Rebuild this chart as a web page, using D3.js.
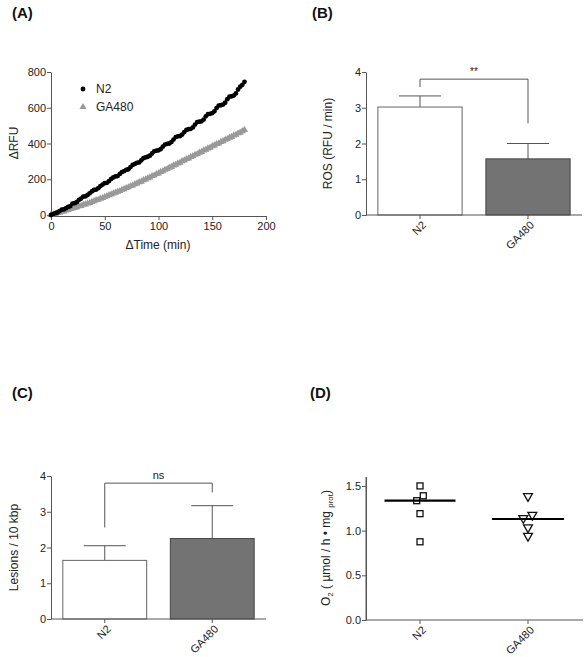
<!DOCTYPE html>
<html><head><meta charset="utf-8">
<script src="https://cdn.jsdelivr.net/npm/d3@7"></script>
<style>
body{margin:0;background:#fff;}
text{font-family:"Liberation Sans",Arial,sans-serif;fill:#222;}
</style></head>
<body>
<svg id="c" width="584" height="657"></svg>
<script>
// ---------- DATA ----------
const timeMin = [0,2,4,6,8,10,12,14,16,18,20,22,24,26,28,30,32,34,36,38,40,42,44,46,48,50,52,54,56,58,60,62,64,66,68,70,72,74,76,78,80,82,84,86,88,90,92,94,96,98,100,102,104,106,108,110,112,114,116,118,120,122,124,126,128,130,132,134,136,138,140,142,144,146,148,150,152,154,156,158,160,162,164,166,168,170,172,174,176,178,180];
const rfuN2 = [0,5,10,14,22,30,31,38,45,50,64,66,72,85,92,103,104,112,121,132,140,142,150,162,170,178,180,190,202,210,216,218,230,240,246,252,256,268,280,286,292,294,306,318,322,326,332,344,356,360,362,368,382,394,398,400,408,422,436,440,442,450,464,476,480,482,490,506,520,522,524,534,552,564,566,570,580,598,612,614,618,628,648,662,664,668,680,702,718,728,745];
const rfuGA480 = [0,4,6,11,13,19,20,26,28,34,36,41,43,49,51,57,59,65,67,73,77,83,85,91,95,102,105,111,115,121,125,131,134,141,145,151,155,162,165,173,177,184,187,195,199,206,210,218,221,229,233,241,245,253,257,265,269,277,281,289,293,301,305,313,317,325,329,337,341,349,353,361,365,373,377,385,389,397,401,409,413,421,425,433,437,445,449,457,461,469,476];
const xTicksA = [0,50,100,150,200];
const yTicksA = [0,200,400,600,800];

const strains = ["N2","GA480"];
const rosMean = [3.02, 1.57];
const rosErr = [3.33, 2.00];           // top of error bar
const rosBracket = [3.8, 3.58, 2.56];  // bracket level, left leg end, right leg end
const rosSig = "**";

const lesionMean = [1.64, 2.25];
const lesionErr = [2.05, 3.17];
const lesionBracket = [3.8, 2.56, 3.54];
const lesionSig = "ns";
const yTicksBC = [0,1,2,3,4];

const o2N2 = [1.50, 1.39, 1.335, 1.19, 0.875];
const o2GA480 = [1.385, 1.14, 1.175, 1.035, 0.94];
const o2Median = [1.335, 1.13];
const yTicksD = [0, 0.5, 1.0, 1.5];

// ---------- DRAW ----------
const svg = d3.select("#c");
const axisCol = "#555";
const fs = 11;

function panelLabel(t, x, y){
  svg.append("text").attr("x",x).attr("y",y).attr("font-size",15).attr("font-weight","bold").style("fill","#111").text(t);
}
function yAxis(g, scale, x, ticks, fmt){
  const a = d3.axisLeft(scale).tickValues(ticks).tickSize(4).tickSizeOuter(0).tickFormat(fmt||d3.format("d"));
  const gg = g.append("g").attr("transform",`translate(${x},0)`).call(a);
  gg.select(".domain").attr("stroke",axisCol);
  gg.selectAll(".tick line").attr("stroke",axisCol);
  gg.selectAll(".tick text").attr("font-size",fs).attr("font-family","Liberation Sans, Arial, sans-serif").style("fill","#222").attr("x",-5);
  return gg;
}
function xCatAxis(g, scale, y, x0, x1){
  g.append("line").attr("x1",x0).attr("x2",x1).attr("y1",y).attr("y2",y).attr("stroke",axisCol);
  strains.forEach(s=>{
    const x = scale(s);
    g.append("line").attr("x1",x).attr("x2",x).attr("y1",y).attr("y2",y+4).attr("stroke",axisCol);
    g.append("text").attr("transform",`translate(${x+4},${y+8}) rotate(-45)`)
      .attr("text-anchor","end").attr("dy","0.35em").attr("font-size",fs).text(s);
  });
}
function yTitle(g, x, y, t){
  return g.append("text").attr("transform",`translate(${x},${y}) rotate(-90)`).attr("text-anchor","middle").attr("font-size",12).text(t);
}

// ===== Panel A =====
{
  const g = svg.append("g");
  const x = d3.scaleLinear().domain([0,200]).range([51,266]);
  const y = d3.scaleLinear().domain([0,800]).range([215,72]);
  yAxis(g, y, 51, yTicksA);
  const xa = d3.axisBottom(x).tickValues(xTicksA).tickSize(4).tickSizeOuter(0);
  const gx = g.append("g").attr("transform","translate(0,216)").call(xa);
  gx.select(".domain").attr("stroke",axisCol);
  gx.selectAll(".tick line").attr("stroke",axisCol);
  gx.selectAll(".tick text").attr("font-size",fs).attr("font-family","Liberation Sans, Arial, sans-serif").style("fill","#222").attr("y",6);
  const tri = d3.symbol().type(d3.symbolTriangle).size(22);
  g.append("g").selectAll("path").data(timeMin.map((t,i)=>[t,rfuGA480[i]])).join("path")
    .attr("d",tri).attr("transform",d=>`translate(${x(d[0])},${y(d[1])})`).attr("fill","#999");
  g.append("g").selectAll("circle").data(timeMin.map((t,i)=>[t,rfuN2[i]])).join("circle")
    .attr("cx",d=>x(d[0])).attr("cy",d=>y(d[1])).attr("r",2.4).attr("fill","#000");
  // legend
  g.append("circle").attr("cx",83).attr("cy",89).attr("r",2.4).attr("fill","#000");
  g.append("text").attr("x",96).attr("y",93).attr("font-size",12).text("N2");
  g.append("path").attr("d",tri).attr("transform","translate(83,107)").attr("fill","#999");
  g.append("text").attr("x",96).attr("y",111).attr("font-size",12).text("GA480");
  yTitle(g, 18, 143, "ΔRFU");
  g.append("text").attr("x",158).attr("y",249).attr("text-anchor","middle").attr("font-size",12).text("ΔTime (min)");
  panelLabel("(A)", 12, 18);
}

function barPanel(x0, x1, yTop, yBot, mean, err, bracket, sig, title, titleX){
  const g = svg.append("g");
  const x = d3.scalePoint().domain(strains).range([x0,x1]).padding(0.5);
  const y = d3.scaleLinear().domain([0,4]).range([yBot,yTop]);
  const bw = x.step()*0.78;
  yAxis(g, y, x0, yTicksBC);
  const fills = ["#fff","#737373"];
  strains.forEach((s,i)=>{
    const cx = x(s);
    g.append("line").attr("x1",cx).attr("x2",cx).attr("y1",y(mean[i])).attr("y2",y(err[i])).attr("stroke",axisCol);
    g.append("line").attr("x1",cx-bw/4).attr("x2",cx+bw/4).attr("y1",y(err[i])).attr("y2",y(err[i])).attr("stroke",axisCol);
    g.append("rect").attr("x",cx-bw/2).attr("width",bw).attr("y",y(mean[i])).attr("height",yBot-y(mean[i]))
      .attr("fill",fills[i]).attr("stroke",i?"#444":"#666");
  });
  xCatAxis(g, x, yBot, x0, x1);
  const xa = x(strains[0]), xb = x(strains[1]);
  g.append("path").attr("d",`M${xa},${y(bracket[1])}V${y(bracket[0])}H${xb}V${y(bracket[2])}`)
    .attr("fill","none").attr("stroke",axisCol);
  g.append("text").attr("x",(xa+xb)/2).attr("y",y(bracket[0])-4).attr("text-anchor","middle").attr("font-size",sig==="**"?10:11).text(sig);
  yTitle(g, titleX, (yTop+yBot)/2, title);
}
// ===== Panel B =====
barPanel(366, 582, 72, 215, rosMean, rosErr, rosBracket, rosSig, "ROS (RFU / min)", 332);
panelLabel("(B)", 312, 18);
// ===== Panel C =====
barPanel(51, 266, 476, 619, lesionMean, lesionErr, lesionBracket, lesionSig, "Lesions / 10 kbp", 18);
panelLabel("(C)", 12, 398);

// ===== Panel D =====
{
  const g = svg.append("g");
  const x = d3.scalePoint().domain(strains).range([366,582]).padding(0.5);
  const y = d3.scaleLinear().domain([0,1.6]).range([620,477]);
  const ga = yAxis(g, y, 366, yTicksD, d3.format(".1f"));
  g.append("line").attr("x1",366).attr("x2",366).attr("y1",477).attr("y2",620).attr("stroke",axisCol);
  xCatAxis(g, x, 620, 366, 583);
  const jit = [0, 3.3, -3.3, 0, 0];
  const jitD = [0, -4.7, 4.3, 0, 0];
  o2N2.forEach((v,i)=>{
    g.append("rect").attr("x",x("N2")+jit[i]-3).attr("y",y(v)-3).attr("width",6).attr("height",6)
      .attr("fill","#fff").attr("stroke","#111").attr("stroke-width",1.3);
  });
  const tri = d3.symbol().type(d3.symbolTriangle).size(34);
  o2GA480.forEach((v,i)=>{
    g.append("path").attr("d",tri).attr("transform",`translate(${x("GA480")+jitD[i]},${y(v)}) rotate(180)`)
      .attr("fill","#fff").attr("stroke","#111").attr("stroke-width",1.3);
  });
  const hw = [35.5, 36];
  strains.forEach((s,i)=>{
    g.append("line").attr("x1",x(s)-hw[i]).attr("x2",x(s)+hw[i]).attr("y1",y(o2Median[i])).attr("y2",y(o2Median[i]))
      .attr("stroke","#000").attr("stroke-width",2.2);
  });
  const t = g.append("text").attr("transform","translate(330,548) rotate(-90)").attr("text-anchor","middle").attr("font-size",12);
  t.append("tspan").text("O");
  t.append("tspan").attr("font-size",8).attr("dy",3).text("2");
  t.append("tspan").attr("dy",-3).text(" ( µmol / h • mg ");
  t.append("tspan").attr("font-size",8).attr("dy",3).text("prot");
  t.append("tspan").attr("dy",-3).text(")");
  panelLabel("(D)", 310, 398);
}
</script>
</body></html>
